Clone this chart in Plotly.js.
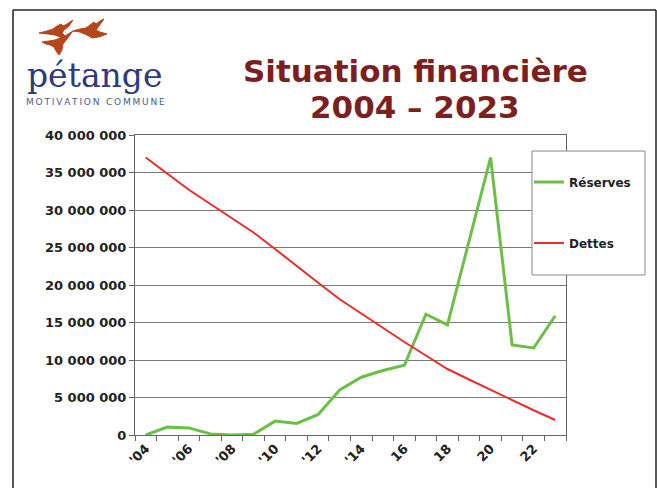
<!DOCTYPE html>
<html>
<head>
<meta charset="utf-8">
<script src="https://cdn.plot.ly/plotly-3.0.1.min.js"></script>
<style>
  html, body { margin: 0; padding: 0; background: #fff; }
  #chart { width: 657px; height: 488px; }
</style>
</head>
<body>
<div id="chart"></div>
<script>
// Data
const years = ['2004', '2005', '2006', '2007', '2008', '2009', '2010', '2011', '2012', '2013',
               '2014', '2015', '2016', '2017', '2018', '2019', '2020', '2021', '2022', '2023'];
const yearLabels = ["'04", '', "'06", '', "'08", '', "'10", '', "'12", '',
                    "'14", '', '16', '', '18', '', '20', '', '22', ''];
const reserves = [0, 1050000, 950000, 150000, 0, 100000, 1850000, 1550000, 2750000, 6000000,
                  7700000, 8600000, 9300000, 16100000, 14700000, 25700000, 37000000, 12000000, 11600000, 15900000];
const dettes = [37000000, 34800000, 32700000, 30800000, 28900000, 27000000, 24800000, 22500000, 20300000, 18100000,
                16200000, 14200000, 12400000, 10600000, 8800000, 7400000, 6000000, 4700000, 3300000, 2000000];

// pixel -> paper helpers (plot area is 135..566 x 135..435)
const L = 135, T = 135, W = 431, H = 300;
function px(x) { return (x - L) / W; }
function py(y) { return (T + H - y) / H; }
function poly(pts) {
    return 'M' + pts.map(p => px(p[0]).toFixed(4) + ',' + py(p[1]).toFixed(4)).join(' L') + ' Z';
}

const boldFont = 'DejaVu Sans, Arial, sans-serif';

const traceRes = {
    x: years, y: reserves, name: 'Réserves', type: 'scatter', mode: 'lines',
    line: { color: '#6cbf45', width: 3 },
    legend: 'legend'
};
const traceDet = {
    x: years, y: dettes, name: 'Dettes', type: 'scatter', mode: 'lines',
    line: { color: '#ee2a2a', width: 2 },
    legend: 'legend2'
};

// logo birds (rough flying figures)
const birdColor = '#b5461c';
const birds = [
    [[39,33],[47,31],[53,29],[57,26],[61,24],[63,26],[67,24],[73,20],[69,26],[64,30],[62,33],[66,37],[60,37],[55,35],[48,34]],
    [[73,31],[80,29],[86,28],[90,25],[94,22],[96,24],[100,21],[104,19],[99,26],[96,30],[100,32],[107,34],[99,37],[92,38],[87,35],[80,32]],
    [[42,42],[49,41],[55,40],[60,38],[62,35],[65,36],[73,31],[67,39],[63,44],[62,50],[59,55],[56,51],[54,47],[50,45],[46,44]]
];

const shapes = birds.map(b => ({
    type: 'path', xref: 'paper', yref: 'paper', path: poly(b),
    fillcolor: birdColor, line: { color: birdColor, width: 1 }, layer: 'above'
}));

// legend box
shapes.push({
    type: 'rect', xref: 'paper', yref: 'paper',
    x0: px(532), x1: px(645), y0: py(275), y1: py(151),
    fillcolor: '#ffffff', line: { color: '#888888', width: 1 }, layer: 'above'
});
// slide frame
shapes.push({ type: 'line', xref: 'paper', yref: 'paper', x0: px(13), x1: px(13), y0: py(10), y1: py(490), line: { color: '#222', width: 1.5 }, layer: 'above' });
shapes.push({ type: 'line', xref: 'paper', yref: 'paper', x0: px(13), x1: px(656), y0: py(10), y1: py(10), line: { color: '#222', width: 1.5 }, layer: 'above' });
shapes.push({ type: 'line', xref: 'paper', yref: 'paper', x0: px(656), x1: px(656), y0: py(10), y1: py(490), line: { color: '#222', width: 1.5 }, layer: 'above' });

const titleColor = '#7e1f1f';
const annotations = [
    { xref: 'paper', yref: 'paper', x: px(415), y: py(71), xanchor: 'center', yanchor: 'middle', showarrow: false,
      text: 'Situation financière', font: { family: boldFont, size: 31, color: titleColor, weight: 'bold' } },
    { xref: 'paper', yref: 'paper', x: px(415), y: py(107), xanchor: 'center', yanchor: 'middle', showarrow: false,
      text: '2004 – 2023', font: { family: boldFont, size: 31, color: titleColor, weight: 'bold' } },
    { xref: 'paper', yref: 'paper', x: px(95), y: py(76), xanchor: 'center', yanchor: 'middle', showarrow: false,
      text: 'pétange', font: { family: 'DejaVu Serif, serif', size: 33, color: '#2d3a80' } },
    { xref: 'paper', yref: 'paper', x: px(95), y: py(102), xanchor: 'center', yanchor: 'middle', showarrow: false,
      text: 'M\u2009O\u2009T\u2009I\u2009V\u2009A\u2009T\u2009I\u2009O\u2009N\u2009 \u2009C\u2009O\u2009M\u2009M\u2009U\u2009N\u2009E',
      font: { family: 'DejaVu Sans, sans-serif', size: 9, color: '#4b5b8e' } }
];

const layout = {
    width: 657, height: 488,
    margin: { l: L, r: 657 - L - W, t: T, b: 488 - T - H, pad: 0 },
    paper_bgcolor: '#ffffff', plot_bgcolor: '#ffffff',
    separators: ', ',
    showlegend: true,
    xaxis: {
        type: 'category',
        range: [-0.5, years.length - 0.5],
        tickvals: years, ticktext: yearLabels,
        tickson: 'boundaries',
        ticks: 'outside', ticklen: 5, tickcolor: '#666',
        tickangle: -45,
        tickfont: { family: boldFont, size: 13, color: '#222', weight: 'bold' },
        showgrid: false, showline: true, linecolor: '#666', linewidth: 1, mirror: true,
        zeroline: false
    },
    yaxis: {
        range: [0, 40000000], dtick: 5000000, tick0: 0,
        tickformat: ',.0f',
        ticks: 'outside', ticklen: 5, tickcolor: '#666',
        tickfont: { family: boldFont, size: 13, color: '#222', weight: 'bold' },
        showgrid: true, gridcolor: '#7a7a7a', gridwidth: 1,
        showline: true, linecolor: '#666', linewidth: 1, mirror: true,
        zeroline: false
    },
    legend: {
        x: px(529), y: py(182), xanchor: 'left', yanchor: 'middle',
        bgcolor: 'rgba(0,0,0,0)', borderwidth: 0,
        font: { family: boldFont, size: 12, color: '#222', weight: 'bold' }
    },
    legend2: {
        x: px(529), y: py(243), xanchor: 'left', yanchor: 'middle',
        bgcolor: 'rgba(0,0,0,0)', borderwidth: 0,
        font: { family: boldFont, size: 12, color: '#222', weight: 'bold' }
    },
    shapes: shapes,
    annotations: annotations
};

Plotly.newPlot('chart', [traceRes, traceDet], layout, { displayModeBar: false, staticPlot: true });
</script>
</body>
</html>
